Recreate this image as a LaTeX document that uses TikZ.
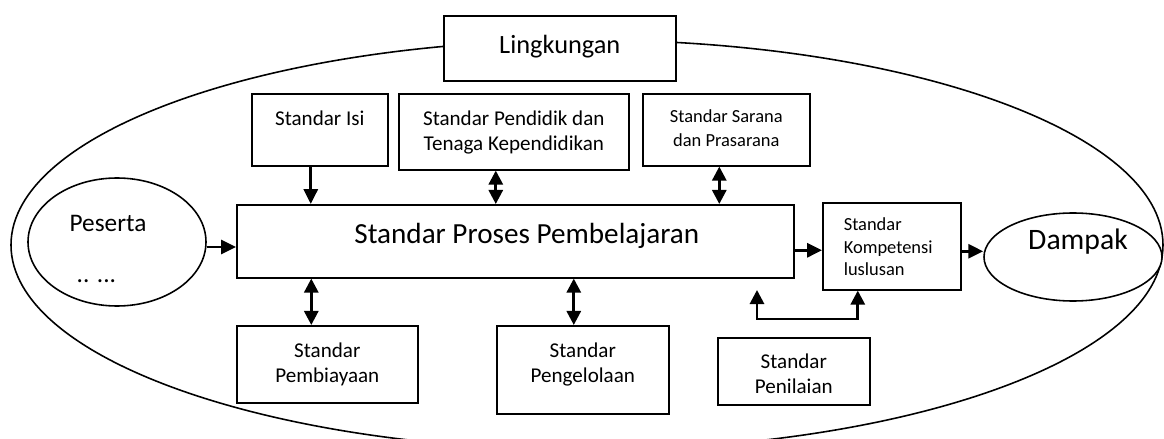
\documentclass[tikz,border=0pt]{standalone}
\usepackage{fontspec}
\setmainfont{Carlito}
\usepackage{tikz}
\usetikzlibrary{arrows.meta}
\usetikzlibrary{shapes,positioning,calc}

\newlength{\px}
\setlength{\px}{0.02cm}
\newcommand{\fs}[2]{\fontsize{#1pt}{#2pt}\selectfont}

\begin{document}
\begin{tikzpicture}[x=0.02cm,y=-0.02cm,
	kotak/.style={draw,line width=0.9pt,fill=white,rectangle,anchor=north west,inner sep=0pt,align=center},
	elips/.style={draw,line width=0.9pt,fill=white,ellipse,inner sep=0pt},
	panah/.style={line width=1.6pt,-{Triangle[length=8.5pt,width=8pt]}},
	panah2/.style={line width=1.6pt,{Triangle[length=8pt,width=8pt]}-{Triangle[length=8pt,width=8pt]}}]
			\useasboundingbox (0,0) rectangle (1164,439);
			\clip (0,0) rectangle (1164,439);
			% lingkungan besar
			\draw[line width=0.9pt] (587,245) ellipse [x radius=576, y radius=205];
			\node[kotak,minimum width=232\px,text height=38\px,text depth=27\px,font=\fs{15}{18}] (lingkungan) at (443,15) {Lingkungan};
			% standar di atas
			\node[kotak,minimum width=136\px,text height=32\px,text depth=40\px,font=\fs{12}{14.2}] (isi) at (251,93) {Standar Isi};
			\node[kotak,minimum width=230\px,text height=57\px,text depth=19\px,font=\fs{12}{14.2}] (pendidik) at (398,93) {Standar Pendidik dan\\Tenaga Kependidikan};
			\node[kotak,minimum width=167\px,text height=53\px,text depth=19\px,font=\fs{10.5}{13.6}] (sarana) at (642,93) {Standar Sarana\\dan Prasarana};
			% proses
			\node[kotak,minimum width=557\px,text height=39\px,text depth=34\px,font=\fs{16.6}{20}] (proses) at (236,204) {\hspace*{23\px}Standar Proses Pembelajaran};
			\node[elips,minimum width=178\px,minimum height=128\px,align=left,text height=80\px,text depth=0\px,font=\fs{14.4}{28.9}] (peserta) at (117,242) {Peserta\hspace*{18\px}\\\hspace*{7\px}.. ...};
			\node[kotak,minimum width=138\px,text width=96\px,align=left,text height=28\px,text depth=59\px,font=\fs{10.5}{12.8}] (kompetensi) at (822,202) {Standar\\Kompetensi\\luslusan};
			\node[elips,minimum width=178\px,minimum height=88\px,text height=20\px,text depth=34\px,font=\fs{16.9}{20}] (dampak) at (1073,257) {\hspace*{10\px}Dampak};
			% standar di bawah
			\node[kotak,minimum width=181\px,text height=57\px,text depth=20\px,font=\fs{12}{14.2}] (pembiayaan) at (236,325) {Standar\\Pembiayaan};
			\node[kotak,minimum width=172\px,text height=57\px,text depth=31\px,font=\fs{12}{14.2}] (pengelolaan) at (496,325) {Standar\\Pengelolaan};
			\node[kotak,minimum width=152\px,text height=56\px,text depth=11\px,font=\fs{12}{14.2}] (penilaian) at (717,337) {Standar\\Penilaian};
			% panah
			\draw[panah] ([xshift=-9\px]isi.south) -- ([xshift=-9\px]isi.south |- proses.north);
			\draw[panah2] ([xshift=-18\px]pendidik.south) -- ([xshift=-18\px]pendidik.south |- proses.north);
			\draw[panah2] ([xshift=-7\px]sarana.south) -- ([xshift=-7\px]sarana.south |- proses.north);
			\draw[panah] ([yshift=-5\px]peserta.east) -- ([yshift=-5\px]peserta.east -| proses.west);
			\draw[panah] ([yshift=-4\px]kompetensi.west -| proses.east) -- ([yshift=-4\px]kompetensi.west);
			\draw[panah] ([yshift=-5\px]kompetensi.east) -- ([yshift=-5\px]kompetensi.east -| dampak.west);
			\draw[panah2] ([xshift=-16\px]pembiayaan.north |- proses.south) -- ([xshift=-16\px]pembiayaan.north);
			\draw[panah2] ([xshift=-9\px]pengelolaan.north |- proses.south) -- ([xshift=-9\px]pengelolaan.north);
			\coordinate (kiri) at (757,290);
			\coordinate (siku) at (757,319);
			\draw[panah2] (kiri) -- (siku) -| ([xshift=-34\px]kompetensi.south);
		\end{tikzpicture}
\end{document}
